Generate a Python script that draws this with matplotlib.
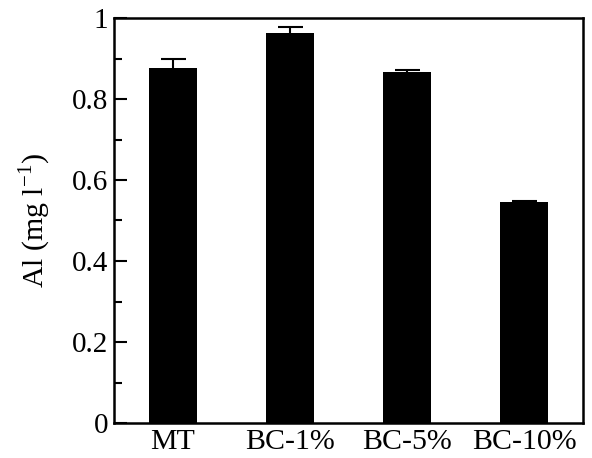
import numpy as np
import matplotlib.pyplot as plt
from matplotlib.ticker import MultipleLocator

plt.rcParams['font.family'] = ['Liberation Serif', 'DejaVu Serif']
plt.rcParams['mathtext.fontset'] = 'custom'
plt.rcParams['mathtext.rm'] = 'Liberation Serif'

samples = ['MT', 'BC-1%', 'BC-5%', 'BC-10%']
al = [0.876, 0.963, 0.866, 0.545]
err = [0.023, 0.015, 0.005, 0.004]

fig = plt.figure(figsize=(5.92, 4.58), dpi=100)
ax = fig.add_axes([114/592, 1-423/458, (583-114)/592, (423-18)/458])

x = np.arange(len(samples))
ax.bar(x, al, width=0.41, color='black', yerr=err,
       error_kw=dict(ecolor='black', elinewidth=1.5, capsize=9, capthick=1.5))

ax.set_xlim(-0.5, 3.5)
ax.set_ylim(0, 1)
ax.set_xticks(x)
ax.set_xticklabels(samples)
ax.yaxis.set_major_locator(MultipleLocator(0.2))
ax.yaxis.set_minor_locator(MultipleLocator(0.1))
ax.set_yticks([0, 0.2, 0.4, 0.6, 0.8, 1])
ax.set_yticklabels(['0', '0.2', '0.4', '0.6', '0.8', '1'])
ax.tick_params(axis='y', which='major', direction='in', length=9, width=1.5, labelsize=21, pad=4)
ax.tick_params(axis='y', which='minor', direction='in', length=6, width=1.5)
ax.tick_params(axis='x', length=0, labelsize=21.5, pad=4)
for s in ax.spines.values():
    s.set_linewidth(1.8)
ax.set_ylabel('Al (mg l$^{-1}$)', fontsize=21.5, labelpad=14)

plt.savefig('out.png')
